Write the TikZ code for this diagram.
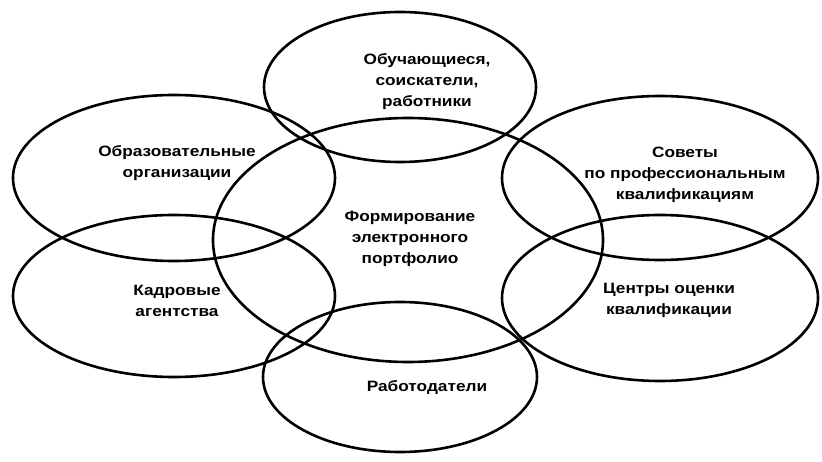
\documentclass[tikz,border=0pt]{standalone}
\usepackage{fontspec}
\newfontfamily\lblfont[FakeStretch=1.15]{Liberation Sans}
\tikzset{
  ring/.style={line width=2.6pt},
  lbl/.style={align=center, inner sep=0pt,
    font=\lblfont\bfseries\fontsize{15}{21}\selectfont}
}

\begin{document}
\begin{tikzpicture}[x=1pt, y=-1pt, line cap=round, line join=round]

  %% ════ эллипсы ════
  \draw[ring] (408.0,240.0) ellipse [x radius=195, y radius=122];   % центр
  \draw[ring] (400.0,87.0)  ellipse [x radius=136, y radius=75];    % верх
  \draw[ring] (400.0,377.0) ellipse [x radius=137, y radius=75];    % низ
  \draw[ring] (174.0,178.0) ellipse [x radius=161, y radius=83];    % слева вверху
  \draw[ring] (174.0,296.0) ellipse [x radius=161, y radius=81];    % слева внизу
  \draw[ring] (660.0,178.0) ellipse [x radius=158, y radius=82];    % справа вверху
  \draw[ring] (660.0,298.0) ellipse [x radius=158, y radius=83];    % справа внизу

  %% ════ подписи ════
  \node[lbl] (portfolio) at (410.0,239.0) {Формирование\\электронного\\портфолио};
  \node[lbl] (learners)  at (427.0,82.0)  {Обучающиеся,\\соискатели,\\работники};
  \node[lbl] (employers) at (427.0,387.0) {Работодатели};
  \node[lbl] (edu)       at (177.0,163.0) {Образовательные\\организации};
  \node[lbl] (agencies)  at (177.0,301.0) {Кадровые\\агентства};
  \node[lbl] (councils)  at (685.0,175.0) {Советы\\по профессиональным\\квалификациям};
  \node[lbl] (centres)   at (669.0,300.0) {Центры оценки\\квалификации};

  % фиксируем холст
  \pgfresetboundingbox
  \path[use as bounding box] (0,0) rectangle (822,462);
\end{tikzpicture}
\end{document}
